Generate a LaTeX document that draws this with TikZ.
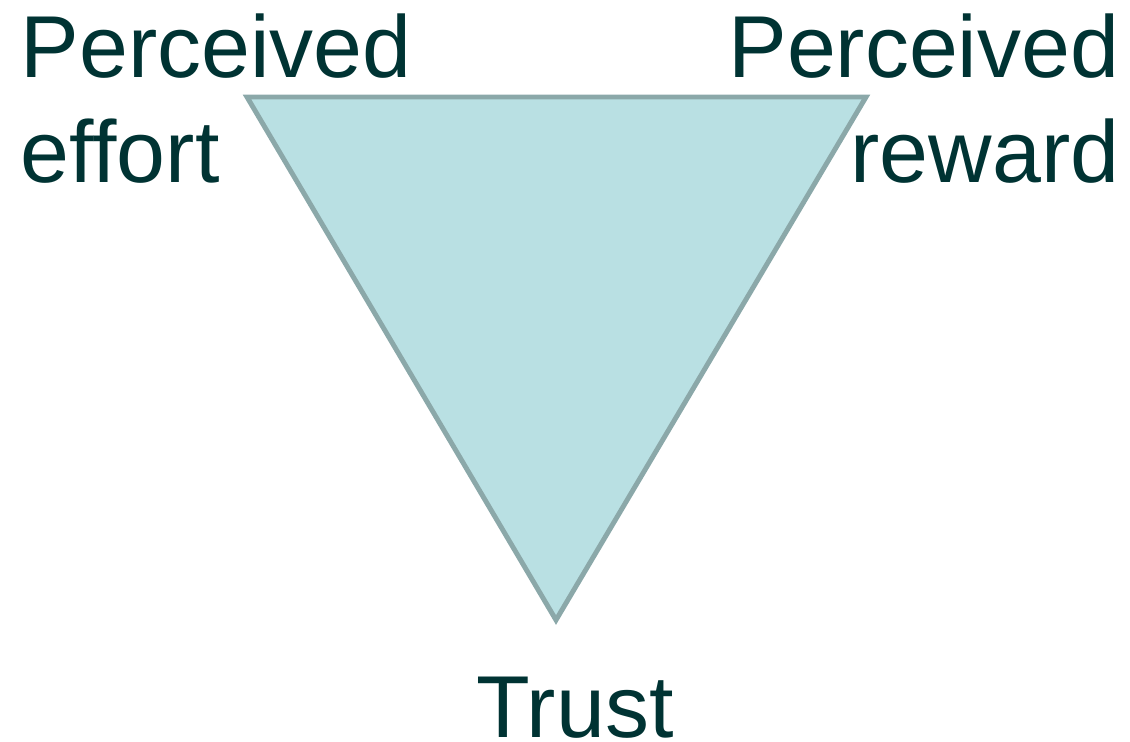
\documentclass[tikz,border=0pt]{standalone}
\usepackage{fontspec}
\setmainfont{Liberation Sans}
\usepackage{tikz}

\definecolor{tealfill}{HTML}{B9E0E3}
\definecolor{tealedge}{HTML}{8BA8A9}
\definecolor{darkteal}{HTML}{003333}

\begin{document}
\begin{tikzpicture}[x=0.01cm,y=-0.01cm,
  label/.style={inner sep=0pt,text=darkteal,font=\fontsize{25pt}{29.6pt}\selectfont}]
\useasboundingbox (0,0) rectangle (1130,741);

\coordinate (effort) at (247,97);
\coordinate (reward) at (866,97);
\coordinate (trust) at (556,620);
\draw[fill=tealfill,draw=tealedge,line width=1.4pt] (effort) -- (reward) -- (trust) -- cycle;

% base anchor sits on the last line
\node[label,anchor=base west,align=left] (efflabel) at (20,182) {Perceived\\effort};
\node[label,anchor=base east,align=right] (revlabel) at (1120,182) {Perceived\\reward};
\node[label,anchor=base] (trustlabel) at (575,737) {Trust};
\end{tikzpicture}
\end{document}
